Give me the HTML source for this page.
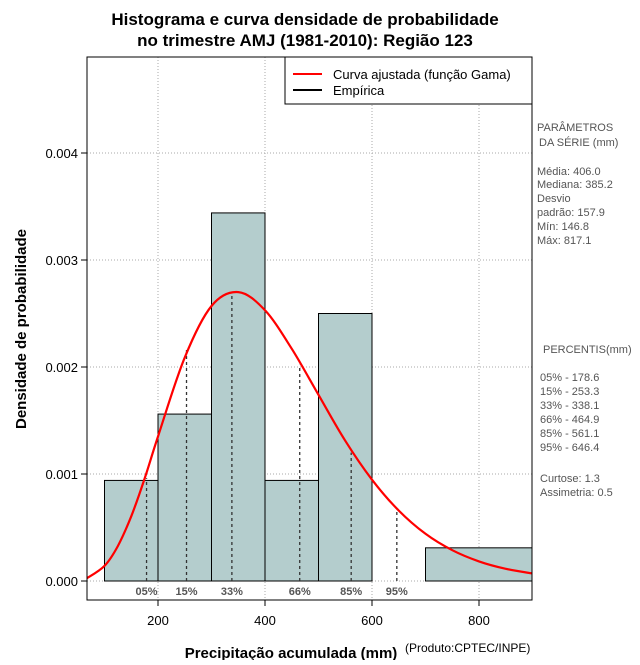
<!DOCTYPE html>
<html><head><meta charset="utf-8"><style>
body{margin:0;background:#fff;}
svg text{font-family:"Liberation Sans",sans-serif;}
</style></head><body>
<svg id="c" width="640" height="660" xmlns="http://www.w3.org/2000/svg">
<rect width="640" height="660" fill="#fff"/>
<text x="305" y="25" text-anchor="middle" font-size="17" font-weight="bold">Histograma e curva densidade de probabilidade</text>
<text x="305" y="46" text-anchor="middle" font-size="17" font-weight="bold">no trimestre AMJ (1981-2010): Região 123</text>
<g id="grid"></g>
<g id="bars"></g>
<g id="pct"></g>
<path id="curve" fill="none" stroke="#ff0000" stroke-width="2.2"/>
<rect x="87" y="57" width="445" height="543" fill="none" stroke="#000" stroke-width="1"/>
<g id="axes"></g>
<text transform="translate(26,329) rotate(-90)" text-anchor="middle" font-size="15" font-weight="bold">Densidade de probabilidade</text>
<text x="291" y="658" text-anchor="middle" font-size="15" font-weight="bold">Precipitação acumulada (mm)</text>
<text x="405" y="652" font-size="12">(Produto:CPTEC/INPE)</text>
<g>
<rect x="285" y="57" width="247" height="47" fill="#fff" stroke="#000"/>
<line x1="293" y1="74" x2="322" y2="74" stroke="#ff0000" stroke-width="2"/>
<text x="333" y="79" font-size="13">Curva ajustada (função Gama)</text>
<line x1="293" y1="90" x2="322" y2="90" stroke="#000" stroke-width="2"/>
<text x="333" y="95" font-size="13">Empírica</text>
</g>
<g font-size="11" fill="#555">
<text x="537" y="131">PARÂMETROS</text>
<text x="539" y="146">DA SÉRIE (mm)</text>
<text x="537" y="175">Média:  406.0</text>
<text x="537" y="188">Mediana:  385.2</text>
<text x="537" y="202">Desvio</text>
<text x="537" y="216">padrão:  157.9</text>
<text x="537" y="230">Mín:  146.8</text>
<text x="537" y="244">Máx:  817.1</text>
<text x="543" y="353">PERCENTIS(mm)</text>
<text x="540" y="381">05% -  178.6</text>
<text x="540" y="395">15% -  253.3</text>
<text x="540" y="409">33% -  338.1</text>
<text x="540" y="423">66% -  464.9</text>
<text x="540" y="437">85% -  561.1</text>
<text x="540" y="451">95% -  646.4</text>
<text x="540" y="482">Curtose:  1.3</text>
<text x="540" y="496">Assimetria:  0.5</text>
</g>
</svg>
<script>
const binStarts=[100,200,300,400,500,600,700];
const binEnds=[200,300,400,500,600,700,900];
const binDensity=[0.00094,0.00156,0.00344,0.00094,0.0025,0,0.00031];
const curveX=[67,100,125,150,175,200,250,300,350,400,450,500,550,600,650,700,750,800,850,900];
const curveY=[0.000025,0.000141,0.000327,0.000606,0.000957,0.00135,0.00209,0.00257,0.0027,0.00253,0.00217,0.00174,0.00131,0.000947,0.000658,0.000441,0.000288,0.000183,0.000114,0.00007];
const pctLabels=["05%","15%","33%","66%","85%","95%"];
const pctValues=[178.6,253.3,338.1,464.9,561.1,646.4];
const pctDensity=[0.00096,0.00216,0.0027,0.00202,0.0012,0.00066];
const xTicks=[200,400,600,800];
const yTicks=[0,0.001,0.002,0.003,0.004];
const yTickLabels=["0.000","0.001","0.002","0.003","0.004"];
const NS="http://www.w3.org/2000/svg";
const X=v=>51+v*0.535, Y=v=>581-v*107000;
function mk(p,t,a){const e=document.createElementNS(NS,t);for(const k in a)e.setAttribute(k,a[k]);p.appendChild(e);return e;}
const g=document.getElementById('grid'),b=document.getElementById('bars'),pg=document.getElementById('pct'),ax=document.getElementById('axes');
xTicks.forEach(t=>{const l=mk(g,'line',{x1:X(t),x2:X(t),y1:57,y2:600,stroke:'#aaa','stroke-dasharray':'1,2'});

const tk=mk(ax,'line',{x1:X(t),x2:X(t),y1:600,y2:606,stroke:'#000'});

const tx=mk(ax,'text',{x:X(t),y:625,'text-anchor':'middle','font-size':13});tx.textContent=t;
});
yTicks.forEach((t,i)=>{const l=mk(g,'line',{x1:87,x2:532,y1:Y(t),y2:Y(t),stroke:'#aaa','stroke-dasharray':'1,2'});

const tk=mk(ax,'line',{x1:81,x2:87,y1:Y(t),y2:Y(t),stroke:'#000'});

const tx=mk(ax,'text',{x:78,y:Y(t)+5,'text-anchor':'end','font-size':13});tx.textContent=yTickLabels[i];
});
const cp=mk(b,'clipPath',{id:'clp'});mk(cp,'rect',{x:87,y:57,width:445,height:543});
binStarts.forEach((s,i)=>{if(binDensity[i]<=0)return;const x1=X(s),x2=Math.min(X(binEnds[i]),532);
const r=mk(b,'rect',{x:x1,y:Y(binDensity[i]),width:x2-x1,height:Y(0)-Y(binDensity[i]),fill:'#b4cdcd',stroke:'#000','stroke-width':1});
});
pctValues.forEach((v,i)=>{const l=mk(pg,'line',{x1:X(v),x2:X(v),y1:Y(0),y2:Y(pctDensity[i]),stroke:'#333','stroke-dasharray':'3,3','stroke-width':1.3});

const t=mk(pg,'text',{x:X(v),y:595,'text-anchor':'middle','font-size':11,'font-weight':'bold',fill:'#555'});t.textContent=pctLabels[i];
});
const P=curveX.map((v,i)=>[X(v),Y(curveY[i])]);
let d='M'+P[0][0].toFixed(1)+','+P[0][1].toFixed(1);
for(let i=0;i<P.length-1;i++){const p0=P[Math.max(i-1,0)],p1=P[i],p2=P[i+1],p3=P[Math.min(i+2,P.length-1)];
const c1=[p1[0]+(p2[0]-p0[0])/6,p1[1]+(p2[1]-p0[1])/6],c2=[p2[0]-(p3[0]-p1[0])/6,p2[1]-(p3[1]-p1[1])/6];
d+='C'+c1.map(n=>n.toFixed(1)).join(',')+' '+c2.map(n=>n.toFixed(1)).join(',')+' '+p2.map(n=>n.toFixed(1)).join(',');}
const c=document.getElementById('curve');c.setAttribute('d',d);c.setAttribute('clip-path','url(#clp)');
</script>
</body></html>
